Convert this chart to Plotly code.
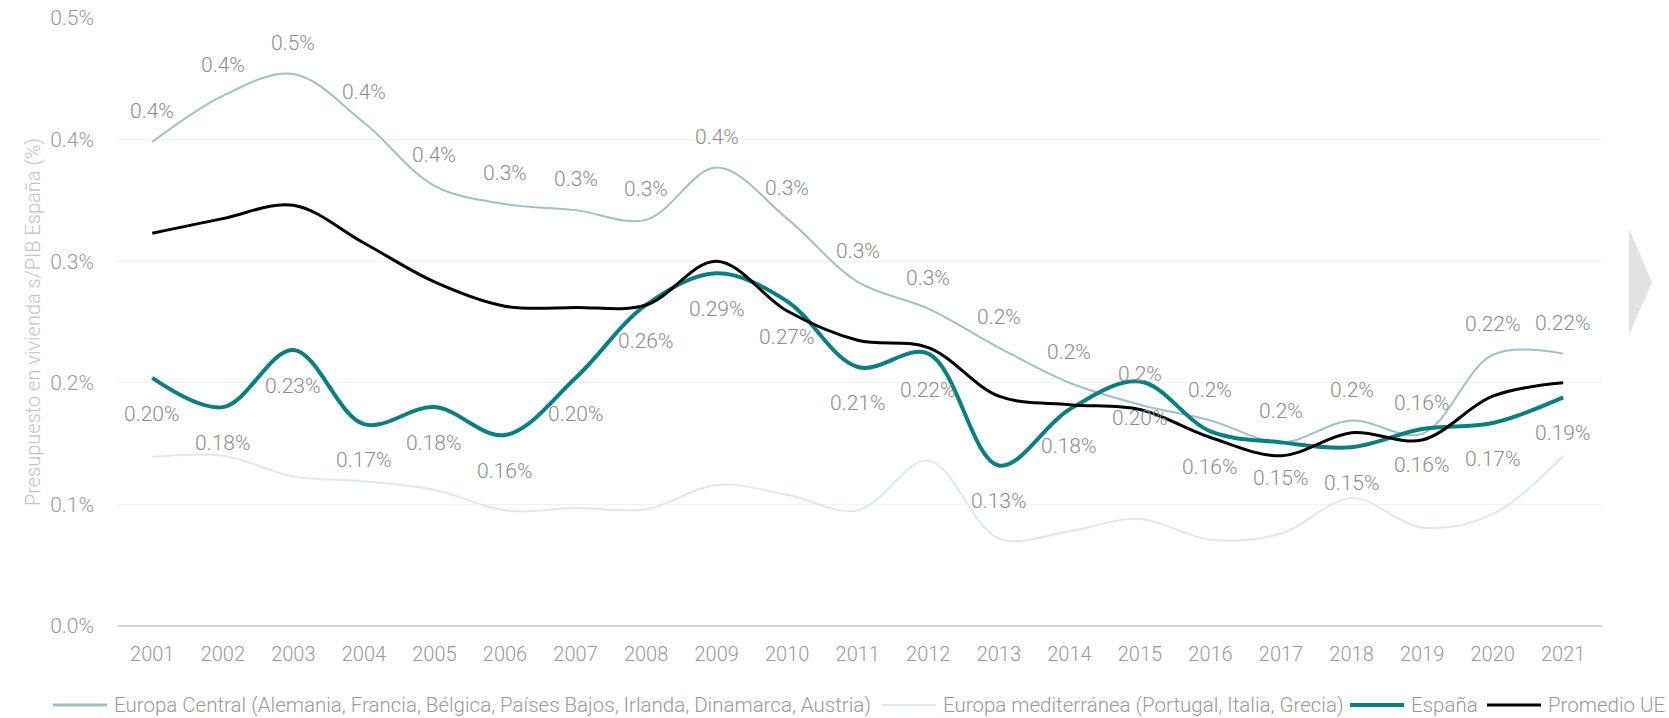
import plotly.graph_objects as go

# ── Data ──────────────────────────────────────────────────────────────────────
YEARS = list(range(2001, 2022))

CENTRAL = [0.398, 0.436, 0.454, 0.414, 0.362, 0.347, 0.342, 0.334, 0.377, 0.335, 0.283,
           0.261, 0.229, 0.200, 0.182, 0.169, 0.151, 0.169, 0.158, 0.223, 0.224]
CENTRAL_LABELS = ["0.4%", "0.4%", "0.5%", "0.4%", "0.4%", "0.3%", "0.3%", "0.3%", "0.4%", "0.3%",
                  "0.3%", "0.3%", "0.2%", "0.2%", "0.2%", "0.2%", "0.2%", "0.2%", "0.16%", "0.22%",
                  "0.22%"]

MEDITERRANEA = [0.139, 0.140, 0.123, 0.119, 0.112, 0.095, 0.097, 0.096, 0.116, 0.108, 0.095,
                0.136, 0.072, 0.078, 0.088, 0.071, 0.076, 0.105, 0.081, 0.092, 0.140]

ESPANA = [0.204, 0.180, 0.227, 0.166, 0.180, 0.157, 0.204, 0.264, 0.290, 0.267, 0.213,
          0.224, 0.132, 0.178, 0.201, 0.160, 0.151, 0.147, 0.162, 0.167, 0.188]
ESPANA_LABELS = ["0.20%", "0.18%", "0.23%", "0.17%", "0.18%", "0.16%", "0.20%", "0.26%", "0.29%",
                 "0.27%", "0.21%", "0.22%", "0.13%", "0.18%", "0.20%", "0.16%", "0.15%", "0.15%",
                 "0.16%", "0.17%", "0.19%"]

PROMEDIO = [0.323, 0.335, 0.346, 0.315, 0.283, 0.263, 0.262, 0.264, 0.300, 0.259, 0.235,
            0.229, 0.189, 0.182, 0.178, 0.155, 0.140, 0.159, 0.153, 0.189, 0.200]

Y_TICKS = [0.0, 0.1, 0.2, 0.3, 0.4, 0.5]
Y_TICK_TEXT = ["0.0%", "0.1%", "0.2%", "0.3%", "0.4%", "0.5%"]

# ── Style ─────────────────────────────────────────────────────────────────────
C_CENTRAL = "#9fc0c7"
C_MED     = "#dde9ec"
C_ESPANA  = "#0b7f7f"
C_PROM    = "#000000"
LABEL_COL = "#8c8c8c"
FAMILY    = "Roboto, Lato, sans-serif"
FONT      = dict(family=FAMILY, color="#999999", size=20, weight=300)

# plot box in page pixels (used to place the hand-made legend / arrow)
W, H = 1669, 718
L, R, T, B = 117, 67, 18, 92
PW, PH = W - L - R, H - T - B


def px(x):
    return (x - L) / PW


def py(y):
    return (H - B - y) / PH


fig = go.Figure()

series = [
    ("Europa Central (Alemania, Francia, Bélgica, Países Bajos, Irlanda, Dinamarca, Austria)",
     CENTRAL, C_CENTRAL, 2, 53),
    ("Europa mediterránea (Portugal, Italia, Grecia)", MEDITERRANEA, C_MED, 2, 882),
    ("España", ESPANA, C_ESPANA, 4, 1350),
    ("Promedio UE", PROMEDIO, C_PROM, 3, 1487),
]
LEG_Y = 705
for name, vals, col, w, lx in series:
    fig.add_trace(go.Scatter(
        x=YEARS, y=vals, name=name, mode="lines", showlegend=False,
        line=dict(color=col, width=w, shape="spline", smoothing=1.0),
        hoverinfo="skip",
    ))
    # legend entry drawn by hand so it keeps to a single row like the original
    fig.add_shape(type="line", xref="paper", yref="paper",
                  x0=px(lx), x1=px(lx + 54), y0=py(LEG_Y), y1=py(LEG_Y),
                  line=dict(color=col, width=max(w, 3) if col != C_MED else 2))
    fig.add_annotation(xref="paper", yref="paper", x=px(lx + 59), y=py(LEG_Y),
                       xanchor="left", yanchor="middle", showarrow=False, text=name,
                       font=dict(family=FAMILY, size=20.5, color="#999999", weight=300))

# data labels
for yr, v, t in zip(YEARS, CENTRAL, CENTRAL_LABELS):
    fig.add_annotation(x=yr, y=v, text=t, showarrow=False, yshift=31,
                       font=dict(family=FAMILY, size=21, color=LABEL_COL, weight=300))
for yr, v, t in zip(YEARS, ESPANA, ESPANA_LABELS):
    fig.add_annotation(x=yr, y=v, text=t, showarrow=False, yshift=-36,
                       font=dict(family=FAMILY, size=21, color=LABEL_COL, weight=300))

# right-hand arrow decoration
fig.add_shape(type="path", xref="paper", yref="paper",
              path=f"M {px(1629)},{py(229)} L {px(1652)},{py(282)} L {px(1629)},{py(335)} Z",
              fillcolor="#e2e2e2", line=dict(width=0), layer="above")

fig.update_layout(
    width=W, height=H,
    paper_bgcolor="white", plot_bgcolor="white",
    font=FONT,
    margin=dict(l=L, r=R, t=T, b=B, autoexpand=False),
    showlegend=False,
    xaxis=dict(range=[2000.5, 2021.55], tickmode="array", tickvals=YEARS,
               showgrid=False, zeroline=False, showline=False, ticks="",
               tickfont=dict(size=20, color="#999999"), ticklabelstandoff=14),
    yaxis=dict(range=[0, 0.5], tickmode="array", tickvals=Y_TICKS, ticktext=Y_TICK_TEXT,
               showgrid=True, gridcolor="#f1f1f1", gridwidth=1,
               zeroline=True, zerolinecolor="#d6d6d6", zerolinewidth=2,
               showline=False, ticks="", ticklabelstandoff=22,
               tickfont=dict(size=21, color="#999999"),
               title=dict(text="Presupuesto en vivienda s/PIB España (%)", standoff=4,
                          font=dict(size=20, color="#c4c4c4"))),
)

fig.write_html("out.html", config={"displayModeBar": False},
               post_script="document.body.style.margin='0';")
